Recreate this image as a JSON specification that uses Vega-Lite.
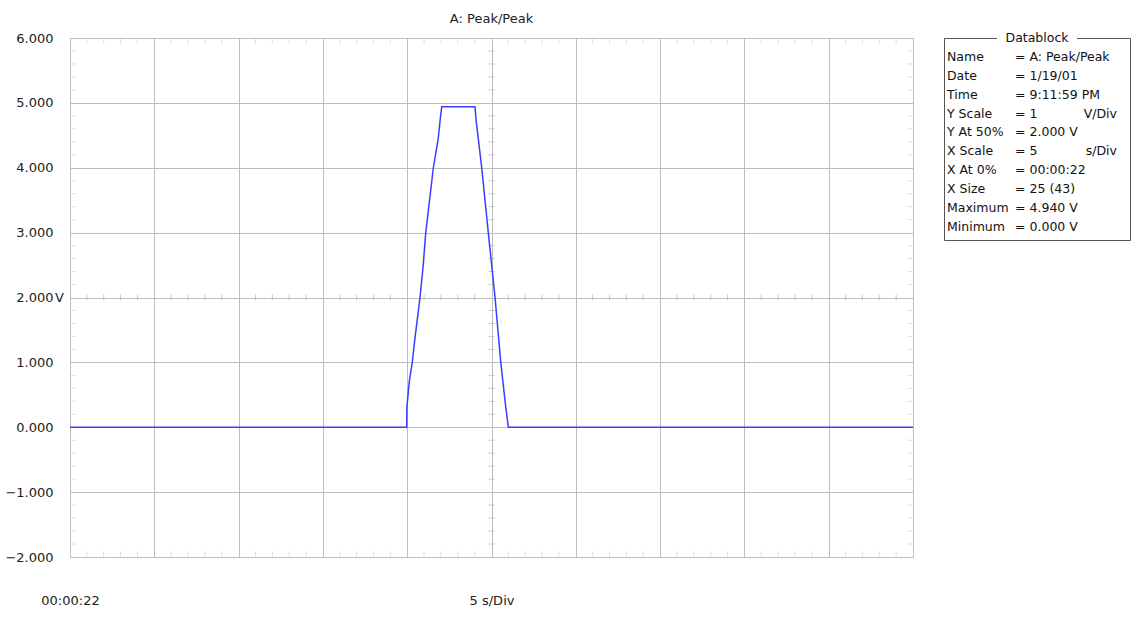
{
  "$schema": "https://vega.github.io/schema/vega-lite/v6.json",
  "padding": {"left": 4, "top": 12, "right": 0, "bottom": 0},
  "background": "white",
  "bounds": "flush",
  "spacing": 31,
  "config": {
    "font": "DejaVu Sans",
    "view": {"stroke": "#a0a0a0"},
    "axis": {"labelFont": "DejaVu Sans", "labelColor": "#222", "labelFontSize": 13}
  },
  "datasets": {
    "xminor": [{"t":1},{"t":2},{"t":3},{"t":4},{"t":6},{"t":7},{"t":8},{"t":9},{"t":11},{"t":12},{"t":13},{"t":14},{"t":16},{"t":17},{"t":18},{"t":19},{"t":21},{"t":22},{"t":23},{"t":24},{"t":26},{"t":27},{"t":28},{"t":29},{"t":31},{"t":32},{"t":33},{"t":34},{"t":36},{"t":37},{"t":38},{"t":39},{"t":41},{"t":42},{"t":43},{"t":44},{"t":46},{"t":47},{"t":48},{"t":49}],
    "yminor": [{"v":-1.8},{"v":-1.6},{"v":-1.4},{"v":-1.2},{"v":-0.8},{"v":-0.6},{"v":-0.4},{"v":-0.2},{"v":0.2},{"v":0.4},{"v":0.6},{"v":0.8},{"v":1.2},{"v":1.4},{"v":1.6},{"v":1.8},{"v":2.2},{"v":2.4},{"v":2.6},{"v":2.8},{"v":3.2},{"v":3.4},{"v":3.6},{"v":3.8},{"v":4.2},{"v":4.4},{"v":4.6},{"v":4.8},{"v":5.2},{"v":5.4},{"v":5.6},{"v":5.8}]
  },
  "hconcat": [
    {
      "width": 843,
      "height": 519,
      "title": {"text": "A: Peak/Peak", "font": "DejaVu Sans", "fontSize": 13, "fontWeight": "normal", "color": "#222", "anchor": "middle", "baseline": "middle", "offset": 0},
      "layer": [
        {
          "data": {"name": "xminor"},
          "mark": {"type": "tick", "orient": "vertical", "size": 6, "thickness": 1, "color": "#b4b4b4"},
          "encoding": {
            "x": {"field": "t", "type": "quantitative",
              "scale": {"domain": [0, 50], "nice": false, "zero": false},
              "axis": {"values": [0, 5, 10, 15, 20, 25, 30, 35, 40, 45, 50],
                "labelExpr": "datum.value == 0 ? '00:00:22' : (datum.value == 25 ? '5 s/Div' : '')",
                "grid": true, "gridColor": "#bdbdbd", "ticks": false, "domain": false,
                "labelPadding": 37, "labelFlush": false, "labelOverlap": false, "labelBound": false,
                "title": null}},
            "y": {"datum": 2, "type": "quantitative",
              "scale": {"domain": [-2, 6], "nice": false, "zero": false},
              "axis": {"values": [-2, -1, 0, 1, 2, 3, 4, 5, 6], "format": ".3f",
                "grid": true, "gridColor": "#bdbdbd", "ticks": false, "domain": false,
                "labelPadding": 17, "title": null}}
          }
        },
        {
          "data": {"name": "xminor"},
          "mark": {"type": "tick", "orient": "vertical", "size": 5, "thickness": 1, "color": "#cfcfcf", "yOffset": -3},
          "encoding": {
            "x": {"field": "t", "type": "quantitative"},
            "y": {"datum": -2, "type": "quantitative"}
          }
        },
        {
          "data": {"name": "xminor"},
          "mark": {"type": "tick", "orient": "vertical", "size": 5, "thickness": 1, "color": "#cfcfcf", "yOffset": 3},
          "encoding": {
            "x": {"field": "t", "type": "quantitative"},
            "y": {"datum": 6, "type": "quantitative"}
          }
        },
        {
          "data": {"name": "yminor"},
          "mark": {"type": "tick", "orient": "horizontal", "size": 6, "thickness": 1, "color": "#b4b4b4"},
          "encoding": {
            "y": {"field": "v", "type": "quantitative"},
            "x": {"datum": 25, "type": "quantitative"}
          }
        },
        {
          "data": {"name": "yminor"},
          "mark": {"type": "tick", "orient": "horizontal", "size": 5, "thickness": 1, "color": "#cfcfcf", "xOffset": 3},
          "encoding": {
            "y": {"field": "v", "type": "quantitative"},
            "x": {"datum": 0, "type": "quantitative"}
          }
        },
        {
          "data": {"name": "yminor"},
          "mark": {"type": "tick", "orient": "horizontal", "size": 5, "thickness": 1, "color": "#cfcfcf", "xOffset": -3},
          "encoding": {
            "y": {"field": "v", "type": "quantitative"},
            "x": {"datum": 50, "type": "quantitative"}
          }
        },
        {
          "data": {"values": [
            {"t": 0, "v": 0},
            {"t": 19.97, "v": 0},
            {"t": 19.98, "v": 0.3},
            {"t": 20.12, "v": 0.7},
            {"t": 20.3, "v": 1.0},
            {"t": 20.45, "v": 1.35},
            {"t": 20.76, "v": 2.0},
            {"t": 20.95, "v": 2.5},
            {"t": 21.1, "v": 3.0},
            {"t": 21.35, "v": 3.55},
            {"t": 21.55, "v": 4.0},
            {"t": 21.84, "v": 4.45},
            {"t": 21.98, "v": 4.8},
            {"t": 22.05, "v": 4.94},
            {"t": 24.02, "v": 4.94},
            {"t": 24.08, "v": 4.75},
            {"t": 24.42, "v": 4.0},
            {"t": 24.81, "v": 3.0},
            {"t": 25.21, "v": 2.0},
            {"t": 25.55, "v": 1.0},
            {"t": 25.85, "v": 0.3},
            {"t": 26.0, "v": 0},
            {"t": 50, "v": 0}
          ]},
          "mark": {"type": "line", "color": "#3c3cff", "strokeWidth": 1.5, "clip": true},
          "encoding": {
            "x": {"field": "t", "type": "quantitative"},
            "y": {"field": "v", "type": "quantitative"}
          }
        },
        {
          "data": {"values": [{"unit": "V"}]},
          "mark": {"type": "text", "align": "left", "baseline": "middle", "dx": -15, "fontSize": 13, "color": "#222"},
          "encoding": {
            "x": {"datum": 0, "type": "quantitative"},
            "y": {"datum": 2, "type": "quantitative"},
            "text": {"field": "unit"}
          }
        }
      ]
    },
    {
      "width": 186,
      "height": 202,
      "view": {"stroke": "#555"},
      "data": {"values": [
        {"row": 1, "label": "Name", "value": "= A: Peak/Peak", "unit": ""},
        {"row": 2, "label": "Date", "value": "= 1/19/01", "unit": ""},
        {"row": 3, "label": "Time", "value": "= 9:11:59 PM", "unit": ""},
        {"row": 4, "label": "Y Scale", "value": "= 1", "unit": "V/Div"},
        {"row": 5, "label": "Y At 50%", "value": "= 2.000 V", "unit": ""},
        {"row": 6, "label": "X Scale", "value": "= 5", "unit": "s/Div"},
        {"row": 7, "label": "X At 0%", "value": "= 00:00:22", "unit": ""},
        {"row": 8, "label": "X Size", "value": "= 25 (43)", "unit": ""},
        {"row": 9, "label": "Maximum", "value": "= 4.940 V", "unit": ""},
        {"row": 10, "label": "Minimum", "value": "= 0.000 V", "unit": ""}
      ]},
      "layer": [
        {
          "mark": {"type": "text", "align": "left", "baseline": "middle", "fontSize": 12.5, "color": "#111"},
          "encoding": {
            "x": {"datum": 0.016, "type": "quantitative", "scale": {"domain": [0, 1], "nice": false, "zero": false}, "axis": null},
            "y": {"field": "row", "type": "quantitative", "scale": {"domain": [0, 10.69], "reverse": true, "nice": false, "zero": false}, "axis": null},
            "text": {"field": "label"}
          }
        },
        {
          "mark": {"type": "text", "align": "left", "baseline": "middle", "fontSize": 12.5, "color": "#111"},
          "encoding": {
            "x": {"datum": 0.382, "type": "quantitative"},
            "y": {"field": "row", "type": "quantitative"},
            "text": {"field": "value"}
          }
        },
        {
          "mark": {"type": "text", "align": "right", "baseline": "middle", "fontSize": 12.5, "color": "#111"},
          "encoding": {
            "x": {"datum": 0.93, "type": "quantitative"},
            "y": {"field": "row", "type": "quantitative"},
            "text": {"field": "unit"}
          }
        },
        {
          "data": {"values": [{"title": "Datablock"}]},
          "mark": {"type": "rect", "color": "white", "clip": false},
          "encoding": {
            "x": {"datum": 0.285, "type": "quantitative"},
            "x2": {"datum": 0.715},
            "y": {"datum": -0.3, "type": "quantitative"},
            "y2": {"datum": 0.3}
          }
        },
        {
          "data": {"values": [{"title": "Datablock"}]},
          "mark": {"type": "text", "align": "center", "baseline": "middle", "fontSize": 12.5, "color": "#111", "clip": false},
          "encoding": {
            "x": {"datum": 0.5, "type": "quantitative"},
            "y": {"datum": 0, "type": "quantitative"},
            "text": {"field": "title"}
          }
        }
      ]
    }
  ]
}
